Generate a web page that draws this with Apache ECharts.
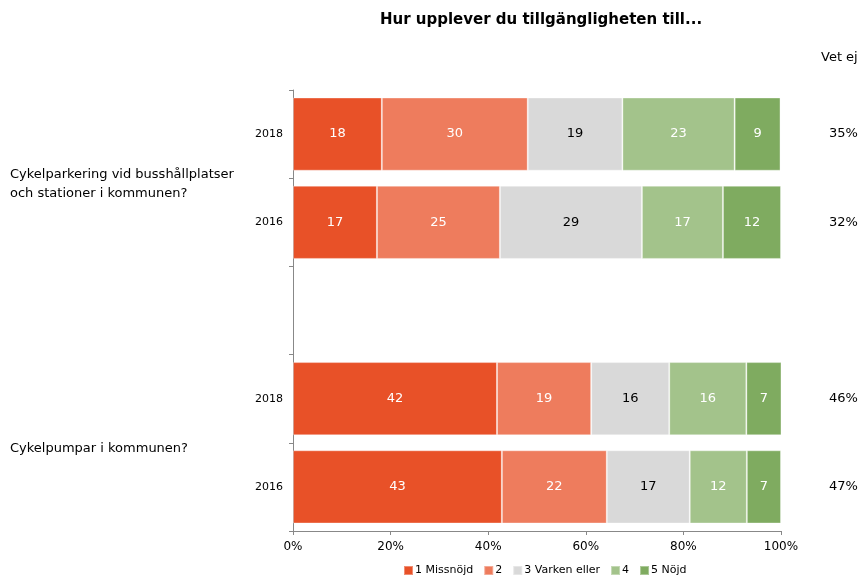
<!DOCTYPE html>
<html>
<head>
<meta charset="utf-8">
<script src="https://cdn.jsdelivr.net/npm/echarts@6/dist/echarts.min.js"></script>
<style>html,body{margin:0;padding:0;background:#fff}#c{width:863px;height:583px}</style>
</head>
<body>
<div id="c"></div>
<script>
// Categories (top to bottom), with an empty spacer row between the two questions
var rowKeys = ['q1_2018', 'q1_2016', 'gap', 'q2_2018', 'q2_2016'];
var rowYears = ['2018', '2016', '', '2018', '2016'];
var vetEj = ['35%', '32%', '', '46%', '47%'];
// Question labels sit on the boundaries between rows (boundary index 0..5)
var questionLabels = ['', 'Cykelparkering vid busshållplatser\noch stationer i kommunen?', '', '', 'Cykelpumpar i kommunen?', ''];

var seriesNames = ['1 Missnöjd', '2', '3 Varken eller', '4', '5 Nöjd'];
var s1 = [18.2, 17.2, null, 41.8, 42.8];
var s2 = [29.9, 25.2, null, 19.3, 21.5];
var s3 = [19.4, 29.1, null, 16.0, 17.0];
var s4 = [23.0, 16.6, null, 15.8, 11.7];
var s5 = [9.4, 11.9, null, 7.2, 7.0];
var xTicks = [0, 20, 40, 60, 80, 100];

var colors = ['#E85128', '#EE7C5D', '#D9D9D9', '#A3C38B', '#7FAB60'];
var labelColors = ['#ffffff', '#ffffff', '#000000', '#ffffff', '#ffffff'];
var FONT = 'DejaVu Sans';

var allData = [s1, s2, s3, s4, s5];
var series = allData.map(function (d, i) {
  return {
    name: seriesNames[i],
    type: 'bar',
    stack: 'total',
    barCategoryGap: '17%',
    data: d,
    itemStyle: { color: colors[i], borderColor: 'rgba(255,255,255,0.35)', borderWidth: 1 },
    label: {
      show: true,
      position: 'inside',
      color: labelColors[i],
      fontFamily: FONT,
      fontSize: 13,
      formatter: function (p) { return p.value == null ? '' : Math.round(p.value); }
    },
    emphasis: { disabled: true }
  };
});

var chart = echarts.init(document.getElementById('c'));
chart.setOption({
  animation: false,
  backgroundColor: '#ffffff',
  title: [
    { text: 'Hur upplever du tillgängligheten till...', left: 536, top: 8, textAlign: 'center',
      textStyle: { fontFamily: FONT, fontSize: 15, fontWeight: 'bold', color: '#000' } },
    { text: 'Vet ej', left: 816, top: 46,
      textStyle: { fontFamily: FONT, fontSize: 13, fontWeight: 'normal', color: '#000' } }
  ],
  legend: {
    bottom: 2, left: 398,
    itemWidth: 9, itemHeight: 9, itemGap: 10,
    icon: 'rect',
    textStyle: { fontFamily: FONT, fontSize: 11, color: '#000', padding: [0, 0, 0, -3] },
    data: seriesNames
  },
  grid: { left: 293, right: 82, top: 90, bottom: 52 },
  xAxis: {
    type: 'value', min: 0, max: 100, interval: 20,
    axisLine: { show: true, lineStyle: { color: '#888' } },
    axisTick: { show: true, inside: false, length: 4, lineStyle: { color: '#888' } },
    splitLine: { show: false },
    axisLabel: { fontFamily: FONT, fontSize: 12, color: '#000', margin: 10,
      formatter: function (v) { return xTicks.indexOf(v) >= 0 ? v + '%' : ''; } }
  },
  yAxis: [
    {
      type: 'category', inverse: true, data: rowKeys,
      axisLine: { show: true, lineStyle: { color: '#888' } },
      axisTick: { show: true, length: 4, lineStyle: { color: '#888' } },
      axisLabel: { fontFamily: FONT, fontSize: 11, color: '#000', margin: 10,
        formatter: function (v, i) { return rowYears[i]; } }
    },
    {
      type: 'category', inverse: true, data: vetEj, position: 'right',
      axisLine: { show: false }, axisTick: { show: false },
      axisLabel: { fontFamily: FONT, fontSize: 13, color: '#000', margin: 48 }
    },
    {
      type: 'category', inverse: true, data: questionLabels, position: 'left',
      boundaryGap: false,
      axisLine: { show: false }, axisTick: { show: false },
      axisLabel: {
        fontFamily: FONT, fontSize: 13, color: '#000', align: 'left', margin: 283, interval: 0,
        formatter: function (v) {
          if (!v) return '';
          return '{s| }\n' + v.split('\n').map(function (l) { return '{t|' + l + '}'; }).join('\n');
        },
        rich: {
          s: { lineHeight: 12, fontSize: 4 },
          t: { fontFamily: FONT, fontSize: 13, lineHeight: 19, color: '#000' }
        }
      }
    }
  ],
  series: series
});
</script>
</body>
</html>
